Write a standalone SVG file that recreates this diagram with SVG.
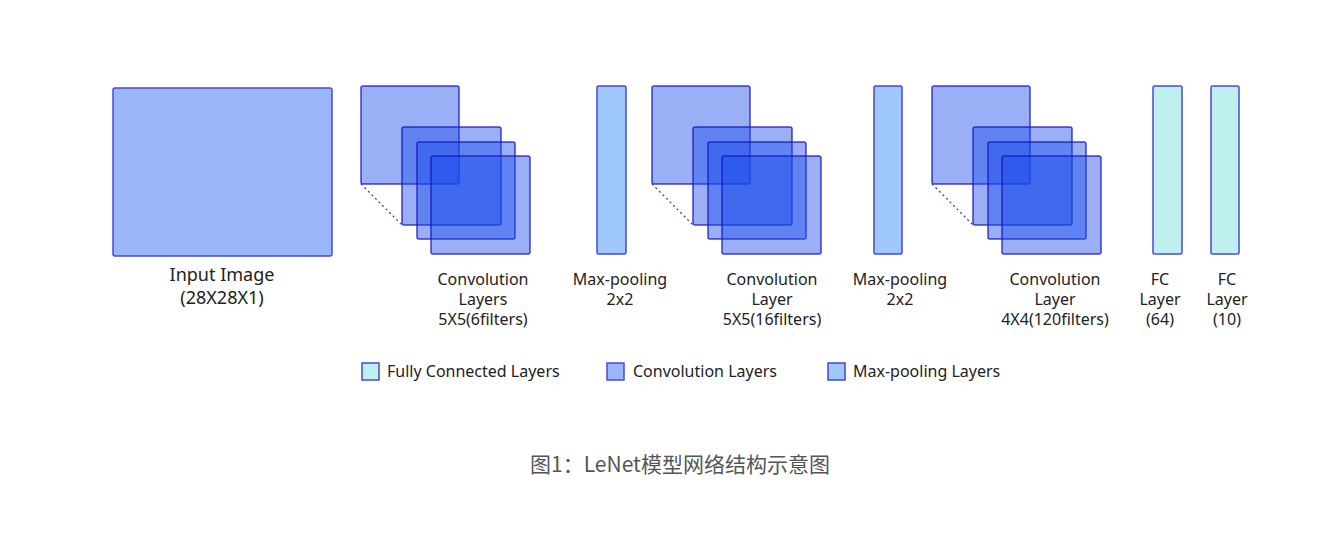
<svg xmlns="http://www.w3.org/2000/svg" width="1343" height="533" viewBox="0 0 1343 533">
<defs>
<style>
.bg{fill:#ffffff}
.inp{fill:#9ab6f8;stroke:#4848dc;stroke-width:1.5}
.conv{fill:#1848ea;fill-opacity:0.44;stroke:#1414c0;stroke-opacity:0.8;stroke-width:1.5}
.pool{fill:#9fc9fc;stroke:#4646d6;stroke-width:1.5}
.fc{fill:#bff0f0;stroke:#4a4ad8;stroke-width:1.5}
.lbl{font-family:"Noto Sans","DejaVu Sans",sans-serif;font-size:16px;fill:#222;text-anchor:middle}
.big{font-size:18px}
.leg{font-family:"Noto Sans","DejaVu Sans",sans-serif;font-size:16px;fill:#222}
.cap{font-family:"Noto Sans CJK SC","Noto Sans",sans-serif;font-size:21px;fill:#555;text-anchor:middle}
.dot{stroke:#3c3ccc;stroke-width:1.3;stroke-dasharray:2 3;fill:none}
</style>
</defs>
<rect class="bg" x="0" y="0" width="1343" height="533"/>
<g id="connectors">
<line class="dot" x1="361" y1="184" x2="402" y2="225"/>
<line class="dot" x1="652" y1="184" x2="693" y2="225"/>
<line class="dot" x1="932" y1="184" x2="973" y2="225"/>
</g>
<g id="input">
<rect class="inp" x="113" y="88" width="219" height="168" rx="2"/>
<text class="lbl big" x="222" y="281">Input Image</text>
<text class="lbl big" x="222" y="304">(28X28X1)</text>
</g>
<g id="conv1">
<rect class="conv" x="361" y="86" width="98" height="98" rx="2"/>
<rect class="conv" x="402" y="127" width="99" height="98" rx="2"/>
<rect class="conv" x="417" y="142" width="98" height="97" rx="2"/>
<rect class="conv" x="431" y="156" width="99" height="98" rx="2"/>
<text class="lbl" x="483" y="285">Convolution</text>
<text class="lbl" x="483" y="305">Layers</text>
<text class="lbl" x="483" y="325">5X5(6filters)</text>
</g>
<g id="pool1">
<rect class="pool" x="597" y="86" width="29" height="168" rx="1.5"/>
<text class="lbl" x="620" y="285">Max-pooling</text>
<text class="lbl" x="620" y="305">2x2</text>
</g>
<g id="conv2">
<rect class="conv" x="652" y="86" width="98" height="98" rx="2"/>
<rect class="conv" x="693" y="127" width="99" height="98" rx="2"/>
<rect class="conv" x="708" y="142" width="98" height="97" rx="2"/>
<rect class="conv" x="722" y="156" width="99" height="98" rx="2"/>
<text class="lbl" x="772" y="285">Convolution</text>
<text class="lbl" x="772" y="305">Layer</text>
<text class="lbl" x="772" y="325">5X5(16filters)</text>
</g>
<g id="pool2">
<rect class="pool" x="874" y="86" width="28" height="168" rx="1.5"/>
<text class="lbl" x="900" y="285">Max-pooling</text>
<text class="lbl" x="900" y="305">2x2</text>
</g>
<g id="conv3">
<rect class="conv" x="932" y="86" width="98" height="98" rx="2"/>
<rect class="conv" x="973" y="127" width="99" height="98" rx="2"/>
<rect class="conv" x="988" y="142" width="98" height="97" rx="2"/>
<rect class="conv" x="1002" y="156" width="99" height="98" rx="2"/>
<text class="lbl" x="1055" y="285">Convolution</text>
<text class="lbl" x="1055" y="305">Layer</text>
<text class="lbl" x="1055" y="325">4X4(120filters)</text>
</g>
<g id="fc1">
<rect class="fc" x="1153" y="86" width="29" height="168" rx="1.5"/>
<text class="lbl" x="1160" y="285">FC</text>
<text class="lbl" x="1160" y="305">Layer</text>
<text class="lbl" x="1160" y="325">(64)</text>
</g>
<g id="fc2">
<rect class="fc" x="1211" y="86" width="28" height="168" rx="1.5"/>
<text class="lbl" x="1227" y="285">FC</text>
<text class="lbl" x="1227" y="305">Layer</text>
<text class="lbl" x="1227" y="325">(10)</text>
</g>
<g id="legend">
<rect class="fc" x="362" y="363" width="17" height="17"/>
<text class="leg" x="387" y="377">Fully Connected Layers</text>
<rect class="inp" x="607" y="363" width="17" height="17"/>
<text class="leg" x="633" y="377">Convolution Layers</text>
<rect class="pool" x="828" y="363" width="17" height="17"/>
<text class="leg" x="853" y="377">Max-pooling Layers</text>
</g>
<g id="caption">
<text class="cap" x="680" y="472">图1：LeNet模型网络结构示意图</text>
</g>
</svg>
